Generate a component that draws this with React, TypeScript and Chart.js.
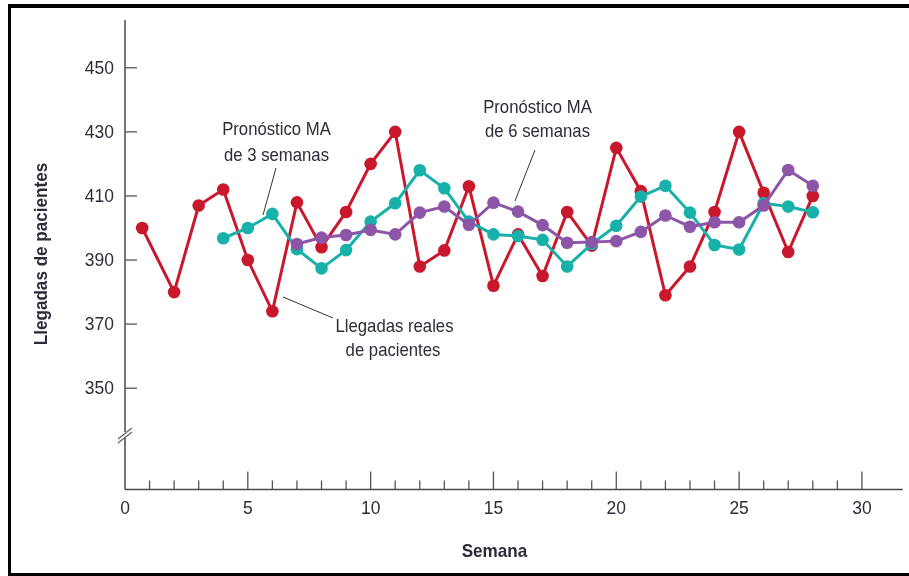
import { useEffect, useRef } from "react";
import { Chart, registerables } from "chart.js";

Chart.register(...registerables);

// Semanas de la serie real (el primer punto aparece un poco antes de la semana 1)
const semanasReales = [0.7, 2, 3, 4, 5, 6, 7, 8, 9, 10, 11, 12, 13, 14, 15, 16, 17, 18, 19, 20, 21, 22, 23, 24, 25, 26, 27, 28];
const llegadasReales = [400, 380, 407, 412, 390, 374, 408, 394, 405, 420, 430, 388, 393, 413, 382, 398, 385, 405, 394.5, 425, 411.5, 379, 388, 405, 430, 411, 392.5, 410];

const semanasMA3 = [4, 5, 6, 7, 8, 9, 10, 11, 12, 13, 14, 15, 16, 17, 18, 19, 20, 21, 22, 23, 24, 25, 26, 27, 28];
const pronosticoMA3 = [396.8, 400, 404.4, 393.4, 387.4, 393.1, 402, 407.7, 418, 412.4, 402, 398, 397.5, 396.3, 388, 395, 400.7, 409.8, 413.2, 404.8, 394.7, 393.3, 407.7, 406.7, 404.9];

const semanasMA6 = [7, 8, 9, 10, 11, 12, 13, 14, 15, 16, 17, 18, 19, 20, 21, 22, 23, 24, 25, 26, 27, 28];
const pronosticoMA6 = [395, 397, 397.8, 399.4, 398, 404.8, 406.7, 401, 407.9, 405.1, 400.9, 395.4, 395.6, 395.9, 398.8, 403.9, 400.4, 401.8, 401.8, 407, 418.1, 413.2];

const yTicks = [350, 370, 390, 410, 430, 450];
const xTicksMayores = [0, 5, 10, 15, 20, 25, 30];
const xTicksMenores = [1, 2, 3, 4, 6, 7, 8, 9, 11, 12, 13, 14, 16, 17, 18, 19, 21, 22, 23, 24, 26, 27, 28, 29];

const ROJO = "#c9182b";
const TURQUESA = "#18b1aa";
const MORADO = "#8c55a7";
const TEXTO = "#2c2c3a";
const FUENTE = "'Liberation Sans', Arial, sans-serif";

const puntos = (xs: number[], ys: number[]) => xs.map((x, i) => ({ x, y: ys[i] }));

// texto estrecho: fuente normal comprimida en horizontal
function texto(ctx: CanvasRenderingContext2D, s: string, x: number, y: number, escala = 0.88) {
  ctx.save();
  ctx.translate(x, y);
  ctx.scale(escala, 1);
  ctx.fillText(s, 0, 0);
  ctx.restore();
}

const ejesYNotas = {
  id: "ejesYNotas",
  beforeDatasetsDraw(chart: Chart) {
    const ctx = chart.ctx;
    const xs = chart.scales.x;
    const ys = chart.scales.y;
    const { left, right, top, bottom } = chart.chartArea;
    ctx.save();
    ctx.strokeStyle = "#4a4a4a";
    ctx.lineWidth = 1.5;
    // eje X
    ctx.beginPath();
    ctx.moveTo(left, bottom);
    ctx.lineTo(right, bottom);
    ctx.stroke();
    // eje Y con corte
    const corte = 435;
    ctx.beginPath();
    ctx.moveTo(left, top);
    ctx.lineTo(left, corte - 3);
    ctx.moveTo(left, corte + 3);
    ctx.lineTo(left, bottom);
    ctx.stroke();
    ctx.strokeStyle = "#666";
    ctx.lineWidth = 1.3;
    ctx.beginPath();
    ctx.moveTo(left - 7, corte + 4);
    ctx.lineTo(left + 7, corte - 7);
    ctx.moveTo(left - 7, corte + 8);
    ctx.lineTo(left + 7, corte - 3);
    ctx.stroke();

    // marcas del eje Y
    ctx.strokeStyle = "#555";
    ctx.lineWidth = 1.3;
    ctx.font = `19px ${FUENTE}`;
    ctx.fillStyle = TEXTO;
    ctx.textAlign = "right";
    ctx.textBaseline = "middle";
    for (const v of yTicks) {
      const y = ys.getPixelForValue(v);
      ctx.beginPath();
      ctx.moveTo(left, y);
      ctx.lineTo(left + 12, y);
      ctx.stroke();
      texto(ctx, String(v), left - 11, y + 1, 0.92);
    }

    // marcas del eje X
    for (const v of xTicksMenores) {
      const x = xs.getPixelForValue(v);
      ctx.beginPath();
      ctx.moveTo(x, bottom);
      ctx.lineTo(x, bottom - 9);
      ctx.stroke();
    }
    ctx.textAlign = "center";
    for (const v of xTicksMayores) {
      const x = xs.getPixelForValue(v);
      if (v > 0) {
        ctx.beginPath();
        ctx.moveTo(x, bottom);
        ctx.lineTo(x, bottom - 18);
        ctx.stroke();
      }
      texto(ctx, String(v), x, bottom + 19, 0.92);
    }

    // títulos de los ejes
    ctx.font = `bold 19px ${FUENTE}`;
    texto(ctx, "Semana", (left + xs.getPixelForValue(30)) / 2 + 1, 552, 0.9);
    ctx.save();
    ctx.translate(42, 254);
    ctx.rotate(-Math.PI / 2);
    texto(ctx, "Llegadas de pacientes", 0, 0, 0.9);
    ctx.restore();
    ctx.restore();
  },
  afterDraw(chart: Chart) {
    const ctx = chart.ctx;
    ctx.save();
    // notas con líneas guía
    ctx.strokeStyle = "#333";
    ctx.lineWidth = 1;
    ctx.beginPath();
    ctx.moveTo(276, 168);
    ctx.lineTo(263, 215);
    ctx.moveTo(535, 150);
    ctx.lineTo(515, 201);
    ctx.moveTo(283, 297);
    ctx.lineTo(333, 318);
    ctx.stroke();

    ctx.font = `19px ${FUENTE}`;
    ctx.fillStyle = TEXTO;
    ctx.textAlign = "center";
    ctx.textBaseline = "alphabetic";
    texto(ctx, "Pronóstico MA", 276.5, 135);
    texto(ctx, "de 3 semanas", 276.5, 161);
    texto(ctx, "Pronóstico MA", 537.5, 112.5);
    texto(ctx, "de 6 semanas", 537.5, 137);
    texto(ctx, "Llegadas reales", 394.5, 332);
    texto(ctx, "de pacientes", 393, 356);

    // marco
    ctx.fillStyle = "#000";
    ctx.fillRect(8, 4, chart.width - 8, 4);
    ctx.fillRect(8, 4, 3, chart.height - 4);
    ctx.fillRect(8, chart.height - 3, chart.width - 8, 3);
    ctx.restore();
  },
};

export default function App() {
  const ref = useRef<HTMLCanvasElement>(null);

  useEffect(() => {
    if (!ref.current) return;
    const serie = (data: { x: number; y: number }[], color: string, order: number) => ({
      data,
      borderColor: color,
      backgroundColor: color,
      pointBackgroundColor: color,
      pointBorderColor: color,
      pointBorderWidth: 0,
      pointRadius: 6.3,
      borderWidth: 3,
      tension: 0,
      fill: false,
      order,
    });
    const chart = new Chart(ref.current, {
      type: "line",
      data: {
        datasets: [
          { label: "Llegadas reales de pacientes", ...serie(puntos(semanasReales, llegadasReales), ROJO, 2) },
          { label: "Pronóstico MA de 3 semanas", ...serie(puntos(semanasMA3, pronosticoMA3), TURQUESA, 1) },
          { label: "Pronóstico MA de 6 semanas", ...serie(puntos(semanasMA6, pronosticoMA6), MORADO, 0) },
        ],
      },
      options: {
        responsive: false,
        animation: false,
        layout: { padding: { left: 125, top: 20, right: 2, bottom: 86.5 } },
        scales: {
          x: { type: "linear", min: 0, max: 31.66, display: false },
          y: { type: "linear", min: 318.4, max: 464.9, display: false },
        },
        plugins: { legend: { display: false }, tooltip: { enabled: false } },
      },
      plugins: [ejesYNotas],
    });
    return () => chart.destroy();
  }, []);

  return (
    <div style={{ position: "fixed", left: 0, top: 0, width: 909, height: 576, background: "#fff" }}>
      <canvas ref={ref} width={909} height={576} style={{ display: "block", width: 909, height: 576 }} />
    </div>
  );
}
